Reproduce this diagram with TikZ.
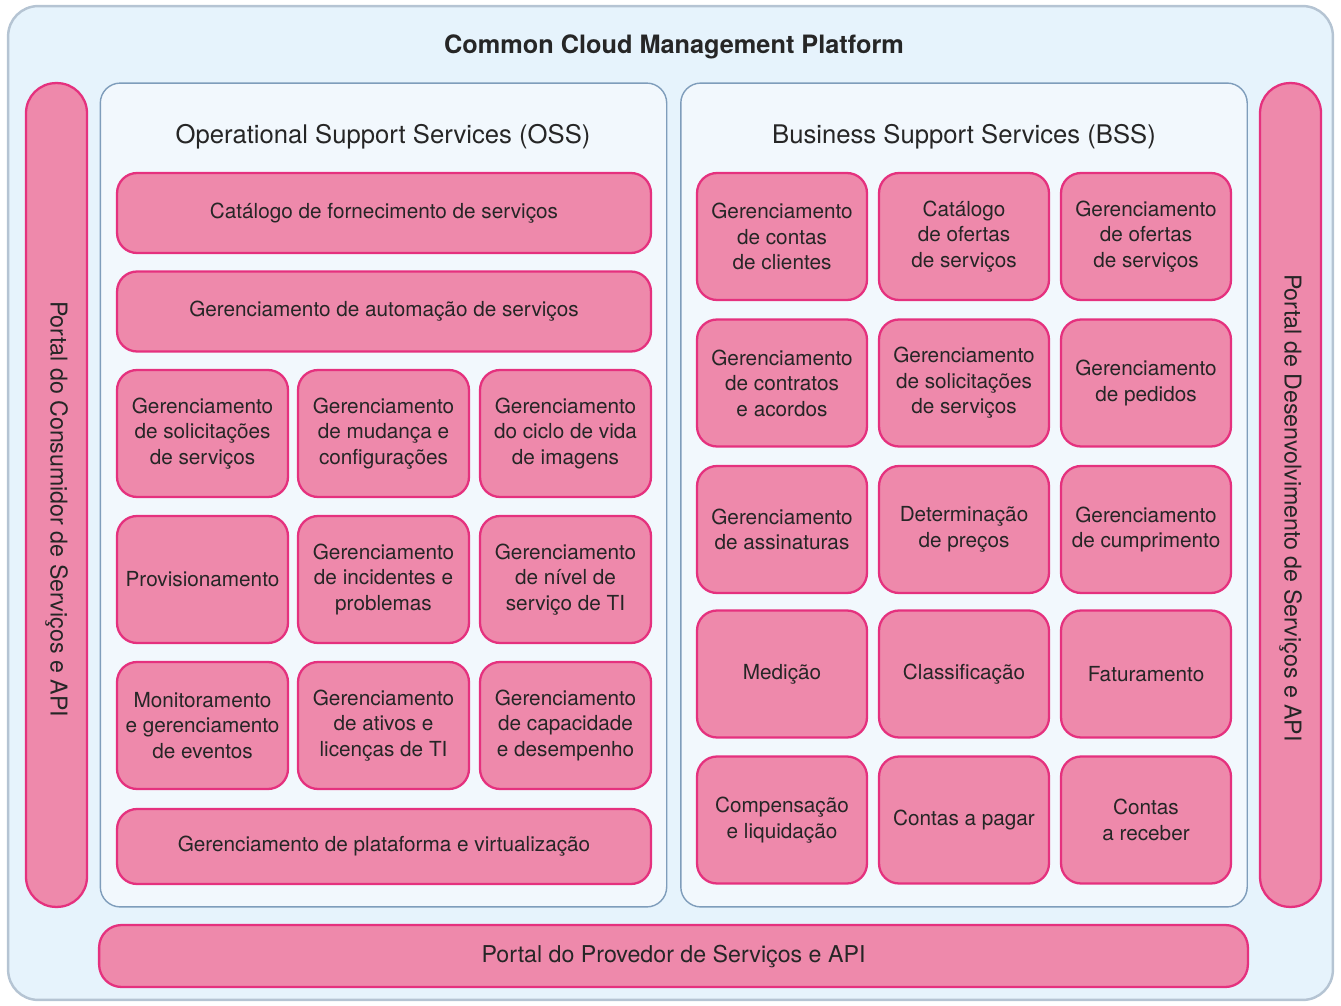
\documentclass[tikz,border=0pt]{standalone}
\usepackage{fontspec}
\setmainfont{TeX Gyre Heros}
\usepackage{tikz}
\usepackage{xcolor}
\definecolor{outerfill}{HTML}{E6F3FC}
\definecolor{outerline}{HTML}{B5C4D3}
\definecolor{panelfill}{HTML}{F2F8FD}
\definecolor{panelline}{HTML}{7F9DBB}
\definecolor{pinkfill}{HTML}{EE89AB}
\definecolor{pinkline}{HTML}{E5317E}
\definecolor{textgray}{HTML}{262626}
\tikzset{pbox/.style={draw=pinkline,fill=pinkfill,line width=1.3pt,rounded corners=0.4cm,align=center,inner sep=0pt,text=textgray,font=\fontsize{11.8}{14.5}\selectfont}}
\tikzset{cell/.style={pbox,minimum width=3.42cm,minimum height=2.54cm}}
\tikzset{wide/.style={pbox,minimum width=10.68cm,minimum height=1.6cm}}
\tikzset{bar/.style={pbox,rounded corners=0.6cm,minimum width=16.48cm,minimum height=1.22cm,rotate=-90}}
\tikzset{bartext/.style={rotate=-90,text=textgray,font=\fontsize{13.2}{16}\selectfont}}
\tikzset{panel/.style={draw=panelline,fill=panelfill,line width=0.8pt,rounded corners=0.4cm,minimum width=11.33cm,minimum height=16.48cm,inner sep=0pt}}
\tikzset{heading/.style={text=textgray,font=\fontsize{14.6}{17}\selectfont}}

\begin{document}
\begin{tikzpicture}[x=0.02cm,y=-0.02cm]
            \useasboundingbox (0,0) rectangle (1341,1006);
            % draw the platform frame
            \node[draw=outerline,fill=outerfill,line width=1.4pt,rounded corners=0.6cm,minimum width=26.5cm,minimum height=19.88cm] (platform) at (670.5,503) {};
            \node[heading,font=\bfseries\fontsize{14.4}{17}\selectfont] (title) at (674,47) {Common Cloud Management Platform};

            % draw the portals
            \node[bar] (consumer) at (56.5,495) {};
            \node[bartext] (consumertext) at (56.5,509) {Portal do Consumidor de Serviços e API};
            \node[bar] (developer) at (1290.5,495) {};
            \node[bartext] (developertext) at (1290.5,508) {Portal de Desenvolvimento de Serviços e API};
            \node[pbox,rounded corners=0.45cm,minimum width=22.98cm,minimum height=1.24cm,font=\fontsize{13.2}{16}\selectfont] (provider) at (673.5,956) {Portal do Provedor de Serviços e API};

            % draw the two panels
            \node[panel] (oss) at (383.5,495) {};
            \node[panel] (bss) at (964,495) {};
            \node[heading] (osstitle) at (383,137) {Operational Support Services (OSS)};
            \node[heading] (bsstitle) at (964,137) {Business Support Services (BSS)};

            % OSS boxes
            \node[wide] (catalog) at (384,213) {Catálogo de fornecimento de serviços};
            \node[wide] (automation) at (384,311.5) {Gerenciamento de automação de serviços};
            \node[cell] (requests) at (202.5,433.5) {Gerenciamento\\de solicitações\\de serviços};
            \node[cell] (change) at (383.5,433.5) {Gerenciamento\\de mudança e\\configurações};
            \node[cell] (images) at (565.5,433.5) {Gerenciamento\\do ciclo de vida\\de imagens};
            \node[cell] (provisioning) at (202.5,579.5) {Provisionamento};
            \node[cell] (incidents) at (383.5,579.5) {Gerenciamento\\de incidentes e\\problemas};
            \node[cell] (level) at (565.5,579.5) {Gerenciamento\\de nível de\\serviço de TI};
            \node[cell] (monitoring) at (202.5,725.5) {Monitoramento\\e gerenciamento\\de eventos};
            \node[cell] (assets) at (383.5,725.5) {Gerenciamento\\de ativos e\\licenças de TI};
            \node[cell] (capacity) at (565.5,725.5) {Gerenciamento\\de capacidade\\e desempenho};
            \node[wide,minimum height=1.5cm] (platformmgmt) at (384,846.5) {Gerenciamento de plataforma e virtualização};

            % BSS boxes
            \node[cell,minimum width=3.4cm] (accounts) at (782,236.5) {Gerenciamento\\de contas\\de clientes};
            \node[cell,minimum width=3.4cm] (offers) at (964,236.5) {Catálogo\\de ofertas\\de serviços};
            \node[cell,minimum width=3.4cm] (offermgmt) at (1146,236.5) {Gerenciamento\\de ofertas\\de serviços};
            \node[cell,minimum width=3.4cm] (contracts) at (782,383) {Gerenciamento\\de contratos\\e acordos};
            \node[cell,minimum width=3.4cm] (bssrequests) at (964,383) {Gerenciamento\\de solicitações\\de serviços};
            \node[cell,minimum width=3.4cm] (orders) at (1146,383) {Gerenciamento\\de pedidos};
            \node[cell,minimum width=3.4cm] (subscriptions) at (782,529.5) {Gerenciamento\\de assinaturas};
            \node[cell,minimum width=3.4cm] (pricing) at (964,529.5) {Determinação\\de preços};
            \node[cell,minimum width=3.4cm] (fulfillment) at (1146,529.5) {Gerenciamento\\de cumprimento};
            \node[cell,minimum width=3.4cm] (metering) at (782,674) {Medição};
            \node[cell,minimum width=3.4cm] (rating) at (964,674) {Classificação};
            \node[cell,minimum width=3.4cm] (billing) at (1146,674) {Faturamento};
            \node[cell,minimum width=3.4cm] (clearing) at (782,820) {Compensação\\e liquidação};
            \node[cell,minimum width=3.4cm] (payable) at (964,820) {Contas a pagar};
            \node[cell,minimum width=3.4cm] (receivable) at (1146,820) {Contas\\a receber};
        \end{tikzpicture}
\end{document}
